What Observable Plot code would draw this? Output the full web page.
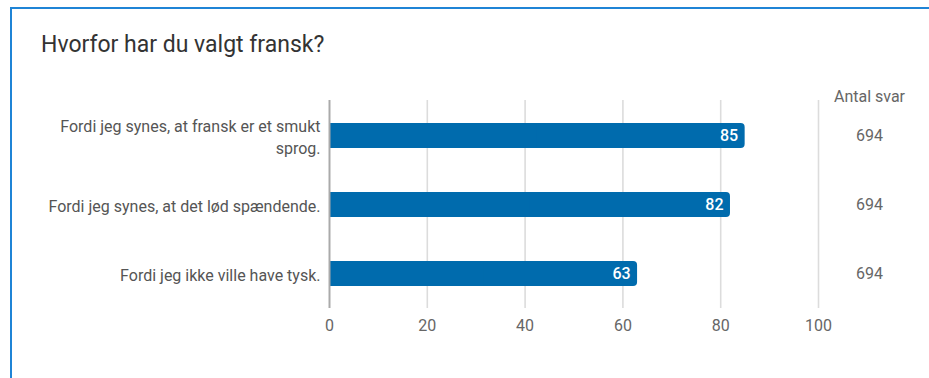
<!DOCTYPE html>
<html>
<head>
<meta charset="utf-8">
<script src="https://cdn.jsdelivr.net/npm/d3@7"></script>
<script src="https://cdn.jsdelivr.net/npm/@observablehq/plot@0.6"></script>
<style>
  html, body { margin: 0; padding: 0; background: #fff; overflow: hidden; }
  #page { position: relative; width: 929px; height: 378px; overflow: hidden; font-family: Roboto, sans-serif; }
  #card { position: absolute; left: 10px; top: 7px; width: 1000px; height: 500px;
          border-left: 2px solid #1f84d6; border-top: 2px solid #1f84d6; box-sizing: border-box; }
  #title { position: absolute; left: 41px; top: 33px; font-size: 23px; line-height: 23px; color: #333; white-space: nowrap; }
  #chart { position: absolute; left: 0; top: 80px; }
</style>
</head>
<body>
<div id="page">
  <div id="card"></div>
  <div id="title">Hvorfor har du valgt fransk?</div>
  <div id="chart"></div>
</div>
<script>
const categories = [
  "Fordi jeg synes, at fransk er et smukt\nsprog.",
  "Fordi jeg synes, at det lød spændende.",
  "Fordi jeg ikke ville have tysk."
];
const values = [85, 82, 63];
const antalSvar = [694, 694, 694];
const xTicks = [0, 20, 40, 60, 80, 100];
const columnHeader = ["Antal svar"];

const data = categories.map((c, i) => ({category: c, value: values[i], n: antalSvar[i]}));
const barColor = "#006bad";

const chart = Plot.plot({
  width: 929,
  height: 298,
  marginLeft: 329,
  marginRight: 111,
  marginTop: 20,
  marginBottom: 70,
  style: {fontFamily: "Roboto, sans-serif", fontSize: "16px", color: "#666", background: "transparent"},
  x: {domain: [0, 100], label: null},
  y: {domain: categories, range: [-2, 251], padding: 0.636, axis: null},
  marks: [
    Plot.ruleX(xTicks.slice(1), {stroke: "#dcdcdc", strokeWidth: 1.6}),
    Plot.axisX({ticks: xTicks, tickSize: 0, tickPadding: 11, fontSize: 16, fill: "#666", label: null}),
    Plot.barX(data, {x: "value", y: "category", fill: barColor, rx: 4}),
    Plot.barX(data, {x1: 0, x2: d => d.value / 2, y: "category", fill: barColor}),
    Plot.ruleX([0], {stroke: "#aaaaaa", strokeWidth: 2}),
    Plot.text(data, {x: "value", y: "category", text: d => String(d.value), textAnchor: "end", dx: -7,
      fill: "white", fontSize: 16, fontWeight: 500}),
    Plot.text(data, {y: "category", text: d => String(d.n), frameAnchor: "right", textAnchor: "middle", dx: 51,
      fill: "#666", fontSize: 16}),
    Plot.text(columnHeader, {text: d => d, frameAnchor: "top-right", textAnchor: "middle", dx: 51, dy: -10,
      fill: "#666", fontSize: 16}),
    Plot.text(data, {y: "category", text: "category", frameAnchor: "left", dx: -9, textAnchor: "end",
      fill: "#555", fontSize: 16, lineHeight: 1.35})
  ]
});
document.getElementById("chart").appendChild(chart);
</script>
</body>
</html>
